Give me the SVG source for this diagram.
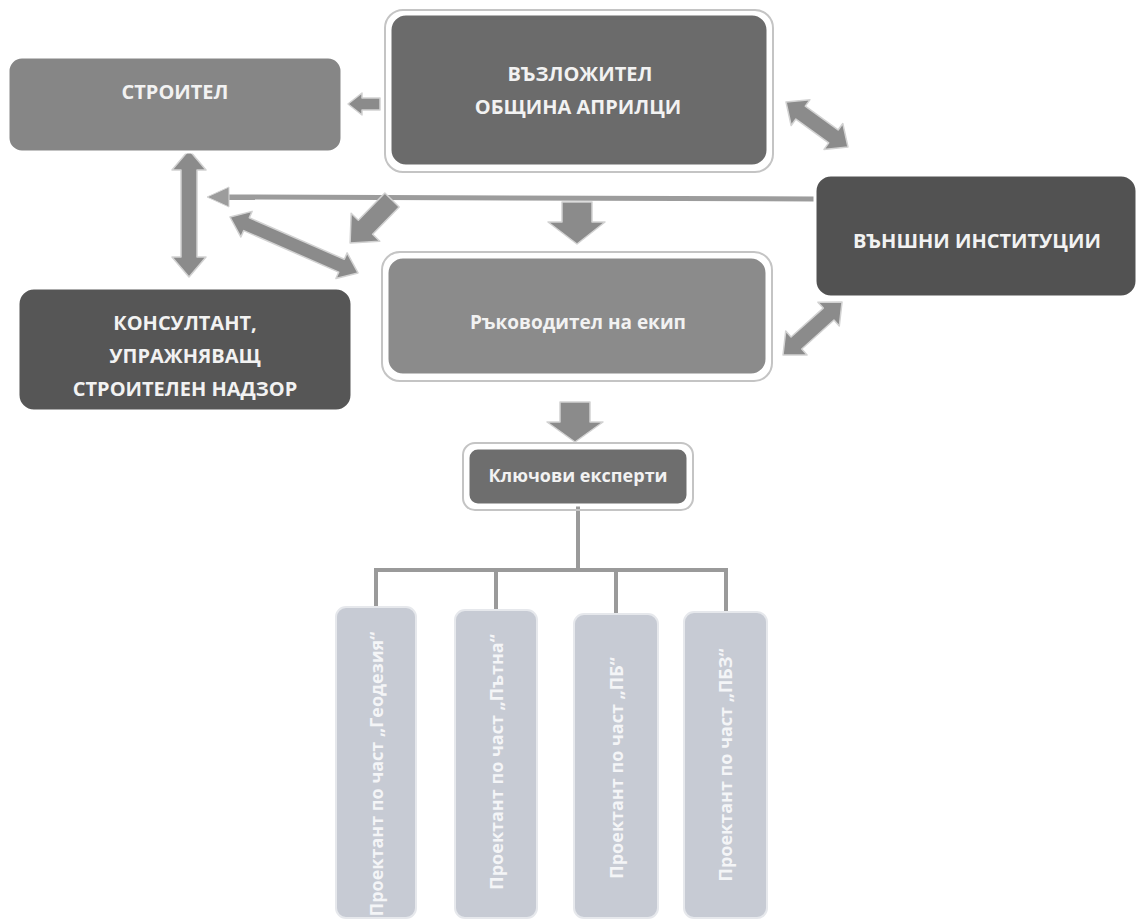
<svg xmlns="http://www.w3.org/2000/svg" width="1140" height="924" viewBox="0 0 1140 924">
  <defs>
    <style>
      .box { stroke: #ffffff; stroke-width: 3; }
      .halo { fill: none; stroke: #c4c4c4; stroke-width: 2; }
      .lbl { font-family: "Open Sans", "Noto Sans", "DejaVu Sans", sans-serif; font-weight: 700; fill: #f2f2f2; text-anchor: middle; dominant-baseline: central; }
      .arrow { fill: #8b8b8b; stroke: #d2d2d2; stroke-width: 1.5; stroke-linejoin: round; }
      .thin { stroke: #9c9c9c; stroke-width: 5; fill: none; }
      .thinhead { fill: #9c9c9c; stroke: #d6d6d6; stroke-width: 1; }
      .tree { stroke: #9a9a9a; stroke-width: 4; fill: none; }
      .leaf { fill: #c7cbd4; stroke: #e6e8ec; stroke-width: 2; }
      .vlbl { font-family: "Open Sans", "Noto Sans", "DejaVu Sans", sans-serif; font-weight: 700; font-size: 18px; fill: #f4f5f7; text-anchor: middle; dominant-baseline: central; }
    </style>
  </defs>
  <rect width="1140" height="924" fill="#ffffff"/>

  <g id="connectors">
    <!-- ВЪЗЛОЖИТЕЛ -> СТРОИТЕЛ -->
    <polygon class="arrow" transform="translate(380,104) rotate(180)" points="0,-6 18,-6 18,-11 32,0 18,11 18,6 0,6"/>
    <!-- ВЪЗЛОЖИТЕЛ <-> ВЪНШНИ ИНСТИТУЦИИ -->
    <polygon class="arrow" transform="translate(786,102) rotate(36)" points="0,0 18,-16 18,-8 58.6,-8 58.6,-16 76.6,0 58.6,16 58.6,8 18,8 18,16"/>
    <!-- long thin arrow from ВЪНШНИ ИНСТИТУЦИИ to left -->
    <line class="thin" x1="815" y1="199" x2="226" y2="197"/>
    <polygon class="thinhead" points="207,197 229,187 229,207"/>
    <!-- ВЪЗЛОЖИТЕЛ -> Ръководител -->
    <polygon class="arrow" points="562,202 592,202 592,222 605,222 577,244 548,222 562,222"/>
    <!-- diagonal down-left arrow -->
    <polygon class="arrow" transform="translate(392,200) rotate(134.3)" points="0,-10 38,-10 38,-20 60,0 38,20 38,10 0,10"/>
    <!-- СТРОИТЕЛ <-> КОНСУЛТАНТ -->
    <polygon class="arrow" transform="translate(189,150) rotate(90)" points="0,0 20,-17 20,-8 107,-8 107,-17 127,0 107,17 107,8 20,8 20,17"/>
    <!-- diagonal double arrow -->
    <polygon class="arrow" transform="translate(230,217) rotate(23.6)" points="0,0 18,-14 18,-7 121.7,-7 121.7,-14 139.7,0 121.7,14 121.7,7 18,7 18,14"/>
    <!-- Ръководител <-> ВЪНШНИ ИНСТИТУЦИИ -->
    <polygon class="arrow" transform="translate(783,355) rotate(-41.9)" points="0,0 18,-16 18,-8 61.3,-8 61.3,-16 79.3,0 61.3,16 61.3,8 18,8 18,16"/>
    <!-- Ръководител -> Ключови експерти -->
    <polygon class="arrow" points="560,402 590,402 590,422 603,422 575,442 547,422 560,422"/>
    <!-- tree -->
    <path class="tree" d="M578,505 V570 M376,570 H726 M376,568 V608 M496,568 V611 M616,568 V615 M726,568 V613"/>
  </g>

  <g id="node-stroitel">
    <rect class="box" x="8" y="57" width="334" height="95" rx="14" fill="#868686"/>
    <text class="lbl" x="175" y="91" font-size="20">СТРОИТЕЛ</text>
  </g>

  <g id="node-vazlozhitel">
    <rect class="halo" x="385" y="10" width="388" height="162" rx="18"/>
    <rect class="box" x="390" y="14" width="378" height="152" rx="16" fill="#6b6b6b"/>
    <text class="lbl" x="580" y="73" font-size="20">ВЪЗЛОЖИТЕЛ</text>
    <text class="lbl" x="578" y="106" font-size="20">ОБЩИНА АПРИЛЦИ</text>
  </g>

  <g id="node-vanshni">
    <rect class="box" x="815" y="175" width="322" height="122" rx="16" fill="#525252"/>
    <text class="lbl" x="977" y="240" font-size="20">ВЪНШНИ ИНСТИТУЦИИ</text>
  </g>

  <g id="node-rakovoditel">
    <rect class="halo" x="382" y="252" width="390" height="129" rx="18"/>
    <rect class="box" x="387" y="257" width="380" height="118" rx="16" fill="#8b8b8b"/>
    <text class="lbl" x="578" y="322" font-size="19">Ръководител на екип</text>
  </g>

  <g id="node-konsultant">
    <rect class="box" x="18" y="288" width="334" height="123" rx="16" fill="#565656"/>
    <text class="lbl" x="185" y="322" font-size="20">КОНСУЛТАНТ,</text>
    <text class="lbl" x="185" y="355" font-size="20">УПРАЖНЯВАЩ</text>
    <text class="lbl" x="185" y="388" font-size="20">СТРОИТЕЛЕН НАДЗОР</text>
  </g>

  <g id="node-klyuchovi">
    <rect class="halo" x="463" y="443" width="230" height="67" rx="12"/>
    <rect class="box" x="468" y="448" width="220" height="57" rx="10" fill="#6e6e6e"/>
    <text class="lbl" x="578" y="475" font-size="18">Ключови експерти</text>
  </g>

  <g id="node-geodezia">
    <rect class="leaf" x="336" y="607" width="80" height="311" rx="10"/>
    <text class="vlbl" transform="translate(376,774) rotate(-90)">Проектант по част „Геодезия“</text>
  </g>

  <g id="node-patna">
    <rect class="leaf" x="455" y="610" width="82" height="308" rx="10"/>
    <text class="vlbl" transform="translate(496,762) rotate(-90)">Проектант по част „Пътна“</text>
  </g>

  <g id="node-pb">
    <rect class="leaf" x="574" y="614" width="84" height="304" rx="10"/>
    <text class="vlbl" transform="translate(616,768) rotate(-90)">Проектант по част „ПБ“</text>
  </g>

  <g id="node-pbz">
    <rect class="leaf" x="684" y="612" width="83" height="306" rx="10"/>
    <text class="vlbl" transform="translate(725,765) rotate(-90)">Проектант по част „ПБЗ“</text>
  </g>
</svg>
